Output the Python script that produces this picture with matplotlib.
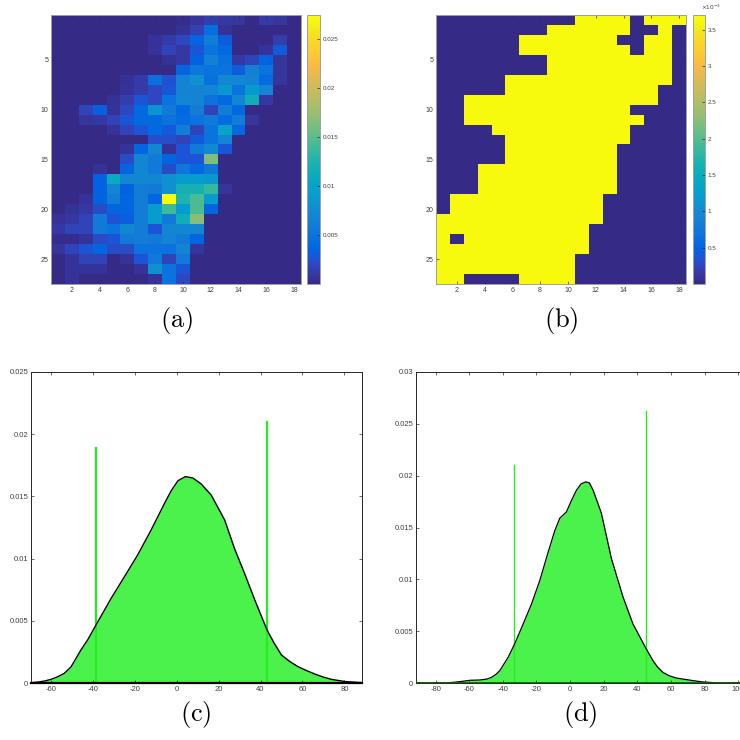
import numpy as np
import matplotlib
matplotlib.use('Agg')
import matplotlib.pyplot as plt
from matplotlib.colors import LinearSegmentedColormap

# ---------------- data ----------------
# panel (a): 27 x 18 map, values in units of 1e-3
heat_a_e3 = [
    [0, 0, 0, 0, 0, 0, 0, 0, 0, 0.3, 0.8, 1.3, 1.0, 0.8, 0, 1.2, 0.9, 0],
    [0, 0, 0, 0, 0, 0, 0, 0, 0, 0.6, 1.5, 4.5, 0.7, 0, 0, 0, 0, 0],
    [0, 0, 0, 0, 0, 0, 0, 0.7, 1.2, 2.0, 3.8, 6.2, 3.2, 0, 0, 0, 1.3, 0],
    [0, 0, 0, 0, 0, 0, 0, 0.7, 1.8, 1.0, 2.7, 5.0, 4.0, 0, 0, 0.7, 3.0, 0],
    [0, 0, 0, 0, 0, 0, 0, 0, 0.6, 1.0, 3.5, 6.5, 4.8, 1.0, 1.8, 3.6, 0.8, 0],
    [0, 0, 0, 0, 0, 0, 0, 0, 0, 3.8, 5.5, 5.0, 5.0, 3.2, 6.5, 5.0, 0.8, 0],
    [0, 0, 0, 0, 0, 0.6, 1.2, 4.8, 2.5, 6.8, 8.0, 4.8, 7.2, 7.2, 6.8, 4.2, 0.8, 0],
    [0, 0, 0, 0, 0, 0.7, 1.2, 2.0, 2.8, 6.8, 6.8, 7.0, 8.5, 5.0, 8.8, 7.0, 0, 0],
    [0, 0, 0, 0, 0.6, 1.3, 2.7, 2.0, 5.0, 7.0, 6.8, 5.0, 4.0, 7.0, 11.5, 1.0, 0, 0],
    [0, 0, 1.8, 3.3, 0.7, 2.0, 4.0, 8.2, 5.8, 4.0, 6.0, 1.8, 6.0, 4.0, 0, 0, 0, 0],
    [0, 0, 0.8, 1.0, 1.8, 2.8, 4.0, 4.0, 5.0, 4.2, 5.0, 5.8, 4.2, 6.0, 0.8, 0, 0, 0],
    [0, 0, 0, 0, 0.7, 1.8, 2.7, 4.0, 3.0, 6.0, 1.8, 5.0, 10.0, 4.0, 0, 0, 0, 0],
    [0, 0, 0, 0, 0, 0, 0, 2.3, 2.3, 1.8, 3.0, 5.0, 7.0, 0, 0, 0, 0, 0],
    [0, 0, 0, 0, 0, 0.7, 3.8, 7.0, 0.7, 2.7, 5.8, 7.2, 2.8, 0, 0, 0, 0, 0],
    [0, 0, 0, 0, 0, 2.2, 7.0, 5.8, 3.8, 2.7, 2.7, 16.4, 0, 0, 0, 0, 0, 0],
    [0, 0, 0, 0.6, 0, 3.8, 7.0, 5.8, 2.2, 5.5, 4.0, 5.5, 0, 0, 0, 0, 0, 0],
    [0, 0, 0, 3.5, 11.0, 7.0, 7.0, 7.0, 8.0, 9.0, 9.0, 8.5, 0, 0, 0, 0, 0, 0],
    [0, 0, 0, 3.5, 7.0, 3.5, 6.0, 5.8, 8.0, 12.0, 12.0, 13.5, 0.8, 0, 0, 0, 0, 0],
    [0, 0, 0.7, 3.5, 6.0, 3.8, 6.0, 3.8, 27.4, 12.5, 14.5, 9.0, 0, 0, 0, 0, 0, 0],
    [0, 0.6, 1.0, 2.2, 3.8, 3.8, 6.0, 9.0, 14.0, 9.0, 14.5, 3.8, 0, 0, 0, 0, 0, 0],
    [0.7, 1.0, 1.8, 5.8, 2.7, 3.3, 6.0, 9.0, 5.8, 11.5, 16.8, 0, 0, 0, 0, 0, 0, 0],
    [1.0, 1.8, 1.8, 5.8, 5.0, 7.0, 6.0, 2.7, 7.0, 7.0, 7.0, 0, 0, 0, 0, 0, 0, 0],
    [0.3, 0.3, 0.7, 2.2, 2.7, 5.8, 6.0, 5.8, 6.8, 5.8, 3.8, 0, 0, 0, 0, 0, 0, 0],
    [0.8, 1.8, 2.7, 3.8, 2.2, 2.2, 5.0, 5.0, 5.0, 6.8, 0.8, 0, 0, 0, 0, 0, 0, 0],
    [0, 0.7, 1.8, 1.8, 0, 0.7, 2.7, 5.8, 1.8, 5.8, 0, 0, 0, 0, 0, 0, 0, 0],
    [0, 0.7, 0.7, 0.7, 0, 0, 0.7, 8.0, 5.0, 2.7, 0, 0, 0, 0, 0, 0, 0, 0],
    [0, 0.7, 0, 0, 0, 0, 0, 0.7, 5.0, 2.0, 0, 0, 0, 0, 0, 0, 0, 0],
]
heat_a_unit = 1e-3
heat_a_vmax = 0.0274
heat_a_cbar_ticks = [0.005, 0.01, 0.015, 0.02, 0.025]
heat_a_cbar_labels = ['0.005', '0.01', '0.015', '0.02', '0.025']

# panel (b): binary support mask (1 = value at b_level)
mask_b_rows = [
    "000000000011110111",
    "000000001111110010",
    "000000111111100110",
    "000000111111110110",
    "000000001111111110",
    "000000001111111110",
    "000001111111111110",
    "000001111111111100",
    "001111111111111100",
    "001111111111110000",
    "001111111111111000",
    "000011111111110000",
    "000001111111110000",
    "000001111111100000",
    "000001111111100000",
    "000111111111100000",
    "000111111111100000",
    "000111111111100000",
    "011111111111000000",
    "011111111111000000",
    "111111111111000000",
    "111111111110000000",
    "101111111110000000",
    "111111111110000000",
    "111111111100000000",
    "111111111100000000",
    "110000111100000000",
]
b_level = 3.7e-3
heat_b_vmax = 3.7e-3
heat_b_cbar_ticks = [0.5e-3, 1e-3, 1.5e-3, 2e-3, 2.5e-3, 3e-3, 3.5e-3]
heat_b_cbar_labels = ['0.5', '1', '1.5', '2', '2.5', '3', '3.5']

heat_xticks = [2, 4, 6, 8, 10, 12, 14, 16, 18]
heat_yticks = [5, 10, 15, 20, 25]

# panel (c): density curve (y in units of 1e-3)
c_x = [-69.5, -66.4, -63.0, -60.0, -56.8, -53.6, -50.4, -45.7, -42.5, -38.5, -31.3, -24.9,
       -18.6, -12.2, -5.8, -2.6, 0.6, 4.1, 7.7, 11.7, 16.5, 22.9, 27.6, 32.4, 37.2, 43.1,
       46.5, 50.0, 54.0, 57.9, 61.9, 65.9, 69.9, 73.9, 80.2, 88.4]
c_y_e3 = [0.03, 0.07, 0.16, 0.29, 0.5, 0.78, 1.3, 2.65, 3.46, 4.66, 6.8, 8.55,
          10.3, 12.3, 14.44, 15.46, 16.26, 16.59, 16.48, 16.0, 15.1, 13.1, 10.8, 8.8, 6.7,
          4.26, 3.2, 2.25, 1.72, 1.31, 1.0, 0.72, 0.48, 0.29, 0.12, 0.03]
c_vlines_x = [-38.5, 43.1]
c_vlines_top = [0.0189, 0.0210]
c_xticks = [-60, -40, -20, 0, 20, 40, 60, 80]
c_yticks = [0, 0.005, 0.01, 0.015, 0.02, 0.025]
c_ylabels = ['0', '0.005', '0.01', '0.015', '0.02', '0.025']

# panel (d): density curve (y in units of 1e-3)
d_x = [-91.7, -73.5, -65.5, -59.6, -53.7, -49.5, -46.7, -44.0, -41.8, -36.8, -32.9, -27.9,
       -23.0, -18.0, -13.1, -9.1, -6.1, -2.2, 0.8, 3.8, 6.5, 9.3, 11.5, 13.7, 18.6, 24.6,
       31.5, 37.4, 44.8, 49.3, 52.0, 55.2, 59.0, 63.2, 73.1, 79.0, 88.9, 112]
d_y_e3 = [0, 0, 0.13, 0.26, 0.29, 0.38, 0.55, 0.85, 1.2, 2.5, 3.8, 5.7,
          7.6, 9.9, 12.6, 14.7, 15.9, 16.5, 17.6, 18.6, 19.2, 19.4, 19.3, 18.6, 16.4, 12.0,
          8.3, 5.7, 3.45, 2.16, 1.55, 1.03, 0.7, 0.48, 0.23, 0.1, 0, 0]
d_vlines_x = [-33.3, 45.0]
d_vlines_top = [0.0210, 0.0262]
d_xticks = [-80, -60, -40, -20, 0, 20, 40, 60, 80, 100]
d_yticks = [0, 0.005, 0.01, 0.015, 0.02, 0.025, 0.03]
d_ylabels = ['0', '0.005', '0.01', '0.015', '0.02', '0.025', '0.03']

panel_labels = ['(a)', '(b)', '(c)', '(d)']

# ---------------- colormap (MATLAB parula) ----------------
parula_pts = [
    [0.2081, 0.1663, 0.5292], [0.2123, 0.2138, 0.6270], [0.1959, 0.2645, 0.7279],
    [0.1253, 0.3242, 0.8303], [0.0117, 0.3875, 0.8820], [0.0165, 0.4266, 0.8786],
    [0.0498, 0.4586, 0.8641], [0.0723, 0.4887, 0.8467], [0.0793, 0.5200, 0.8312],
    [0.0641, 0.5570, 0.8240], [0.0343, 0.5966, 0.8199], [0.0239, 0.6287, 0.8038],
    [0.0228, 0.6535, 0.7768], [0.0384, 0.6743, 0.7436], [0.0843, 0.6928, 0.7062],
    [0.1453, 0.7098, 0.6646], [0.2178, 0.7250, 0.6193], [0.3022, 0.7376, 0.5712],
    [0.3953, 0.7459, 0.5244], [0.4871, 0.7491, 0.4840], [0.5709, 0.7485, 0.4494],
    [0.6473, 0.7456, 0.4188], [0.7184, 0.7411, 0.3905], [0.7858, 0.7356, 0.3633],
    [0.8507, 0.7299, 0.3360], [0.9139, 0.7258, 0.3063], [0.9739, 0.7314, 0.2666],
    [0.9990, 0.7653, 0.2164], [0.9880, 0.8066, 0.1794], [0.9697, 0.8481, 0.1475],
    [0.9589, 0.8949, 0.1132], [0.9661, 0.9514, 0.0755], [0.9763, 0.9831, 0.0538],
]
parula = LinearSegmentedColormap.from_list('parula', parula_pts, N=256)

# ---------------- figure ----------------
W = 740.0
plt.rcParams['axes.unicode_minus'] = False
plt.rcParams['font.family'] = ['Liberation Sans', 'DejaVu Sans']
fig = plt.figure(figsize=(7.4, 7.4), dpi=100)

TICK_COL = '#404040'


def fr(x0, y0, x1, y1):
    return [x0 / W, 1 - y1 / W, (x1 - x0) / W, (y1 - y0) / W]


def style(ax, fs, spine_col):
    ax.tick_params(direction='in', top=True, right=True, length=2.5, width=0.5,
                   labelsize=fs, labelcolor=TICK_COL, color='#303030', pad=2)
    for s in ax.spines.values():
        s.set_color(spine_col)
        s.set_linewidth(0.7)


A = np.array(heat_a_e3) * heat_a_unit
B = np.array([[int(ch) for ch in r] for r in mask_b_rows]) * b_level
ny, nx = A.shape
extent = (0.5, nx + 0.5, ny + 0.5, 0.5)

# (a)
axa = fig.add_axes(fr(51, 15, 301, 284))
ima = axa.imshow(A, cmap=parula, vmin=0, vmax=heat_a_vmax, extent=extent,
                 aspect='auto', interpolation='nearest')
axa.set_xticks(heat_xticks)
axa.set_yticks(heat_yticks)
style(axa, 5, '#a0a0a0')
caxa = fig.add_axes(fr(307, 15, 320, 284))
cba = fig.colorbar(ima, cax=caxa, ticks=heat_a_cbar_ticks)
cba.ax.set_yticklabels(heat_a_cbar_labels)
cba.ax.tick_params(direction='in', length=2, width=0.5, labelsize=4.5,
                   labelcolor=TICK_COL, color='#303030', pad=2)
cba.outline.set_edgecolor('#a0a0a0')
cba.outline.set_linewidth(0.7)

# (b)
axb = fig.add_axes(fr(436, 15, 686, 284))
imb = axb.imshow(B, cmap=parula, vmin=0, vmax=heat_b_vmax, extent=extent,
                 aspect='auto', interpolation='nearest')
axb.set_xticks(heat_xticks)
axb.set_yticks(heat_yticks)
style(axb, 5, '#a0a0a0')
caxb = fig.add_axes(fr(693, 15, 705, 284))
cbb = fig.colorbar(imb, cax=caxb, ticks=heat_b_cbar_ticks)
cbb.ax.set_yticklabels(heat_b_cbar_labels)
cbb.ax.tick_params(direction='in', length=2, width=0.5, labelsize=4.5,
                   labelcolor=TICK_COL, color='#303030', pad=2)
cbb.outline.set_edgecolor('#a0a0a0')
cbb.outline.set_linewidth(0.7)
fig.text(701 / W, 1 - 7 / W, r'$\times10^{-3}$', fontsize=4.2, color=TICK_COL,
         ha='left', va='center', math_fontfamily='dejavusans')

FILL = '#4cf24c'
VLINE = '#22ee22'

# (c)
axc = fig.add_axes(fr(31, 372, 362, 683))
cx = np.array(c_x)
cy = np.array(c_y_e3) * 1e-3
axc.fill_between(cx, 0, cy, color=FILL, lw=0, zorder=1)
axc.plot(cx, cy, color='black', lw=1.0, zorder=3, solid_joinstyle='round')
for xv, top in zip(c_vlines_x, c_vlines_top):
    axc.plot([xv, xv], [0, top], color=VLINE, lw=1.6, zorder=2)
axc.set_xlim(-69.5, 88.4)
axc.set_ylim(0, 0.025)
axc.set_xticks(c_xticks)
axc.set_yticks(c_yticks)
axc.set_yticklabels(c_ylabels)
style(axc, 5.5, '#262626')
axc.spines['bottom'].set_linewidth(1.6)
axc.spines['bottom'].set_color('black')

# (d)
axd = fig.add_axes(fr(416, 372, 756.6, 683))
dx = np.array(d_x)
dy = np.array(d_y_e3) * 1e-3
axd.fill_between(dx, 0, dy, color=FILL, lw=0, zorder=1)
axd.plot(dx, dy, color='black', lw=0.9, zorder=3, solid_joinstyle='round')
for xv, top in zip(d_vlines_x, d_vlines_top):
    axd.plot([xv, xv], [0, top], color=VLINE, lw=1.0, zorder=2)
axd.axhline(0, color='#006a00', lw=2.0, zorder=4)
axd.set_xlim(-91.7, 111)
axd.set_ylim(0, 0.03)
axd.set_xticks(d_xticks)
axd.set_yticks(d_yticks)
axd.set_yticklabels(d_ylabels)
style(axd, 5.5, '#262626')

# panel labels
lab_pos = [(176.5, 321), (561, 321), (196, 714), (580, 714)]
for lab, (px, py) in zip(panel_labels, lab_pos):
    fig.text(px / W, 1 - py / W, r'$\mathrm{' + lab + '}$', fontsize=19,
             ha='center', va='center', math_fontfamily='cm', color='black')

fig.savefig('out.png', dpi=100)
